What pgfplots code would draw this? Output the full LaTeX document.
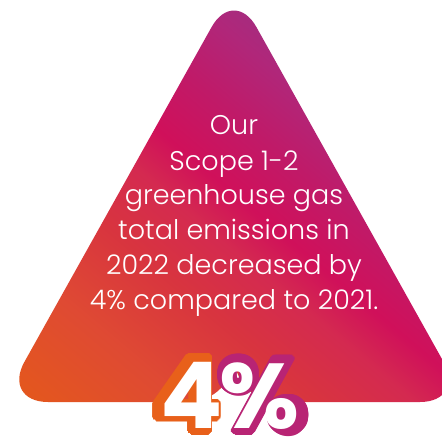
\documentclass[border=0pt]{standalone}
\usepackage{fontspec}
\setmainfont{Poppins}[UprightFont=* Light, BoldFont=* Bold]
\usepackage{pgfplots}
\usetikzlibrary{calc}
\pgfplotsset{compat=1.18}
\definecolor{s0}{HTML}{E4581C}
\definecolor{s1}{HTML}{DF4A33}
\definecolor{s2}{HTML}{D8343F}
\definecolor{s3}{HTML}{D42A50}
\definecolor{s4}{HTML}{D0105A}
\definecolor{s5}{HTML}{C01A68}
\definecolor{s6}{HTML}{B0277A}
\definecolor{s7}{HTML}{9C3083}
\definecolor{cout}{HTML}{E8601A}
\definecolor{coutp}{HTML}{B82474}
\pgfdeclareverticalshading{tri}{100bp}{color(0bp)=(s0); color(16bp)=(s0); color(28bp)=(s1); color(38bp)=(s2); color(45bp)=(s3); color(50bp)=(s4); color(57bp)=(s5); color(64bp)=(s6); color(70bp)=(s7); color(100bp)=(s7)}
\newcommand\lineat[2]{\node[anchor=base, text=white, font=\fontsize{27}{30}\selectfont, inner sep=0pt] at (axis cs:234,#1) {#2};}
\begin{document}
\begin{tikzpicture}
\begin{axis}[
  width=442pt, height=440pt, scale only axis,
  xmin=0, xmax=442, ymin=0, ymax=440,
  hide axis, clip=true]
\addplot[draw=none, fill=white] coordinates {(0,0) (442,0) (442,440) (0,440)} -- cycle;
\addplot[draw=none, rounded corners=46pt, shade, shading=tri, shading angle=-40]
  coordinates {(234,38) (466,38) (234,453) (2,38) (234,38)} -- cycle;
\lineat{305}{Our}
\lineat{269.3}{Scope 1-2}
\lineat{236}{greenhouse gas}
\lineat{201}{total emissions in}
\lineat{165.7}{2022 decreased by}
\lineat{130.7}{4\% compared to 2021.}
\pgfplotsinvokeforeach{0,22.5,45,67.5,90,112.5,135,157.5,180,202.5,225,247.5,270,292.5,315,337.5}{
  \node[anchor=base east, text=cout, font=\fontsize{104}{104}\selectfont\bfseries, inner sep=0pt] at ($(axis cs:222,8.5)+(#1:3.5pt)$) {4};
  \node[anchor=base west, text=coutp, font=\fontsize{104}{104}\selectfont\bfseries, inner sep=0pt] at ($(axis cs:218,8.5)+(#1:3.5pt)$) {\%};
}
\node[anchor=base east, text=white, font=\fontsize{92}{92}\selectfont\bfseries, inner sep=0pt] at (axis cs:223,12) {4};
\node[anchor=base west, text=white, font=\fontsize{92}{92}\selectfont\bfseries, inner sep=0pt] at (axis cs:219,12) {\%};
\end{axis}
\end{tikzpicture}
\end{document}
